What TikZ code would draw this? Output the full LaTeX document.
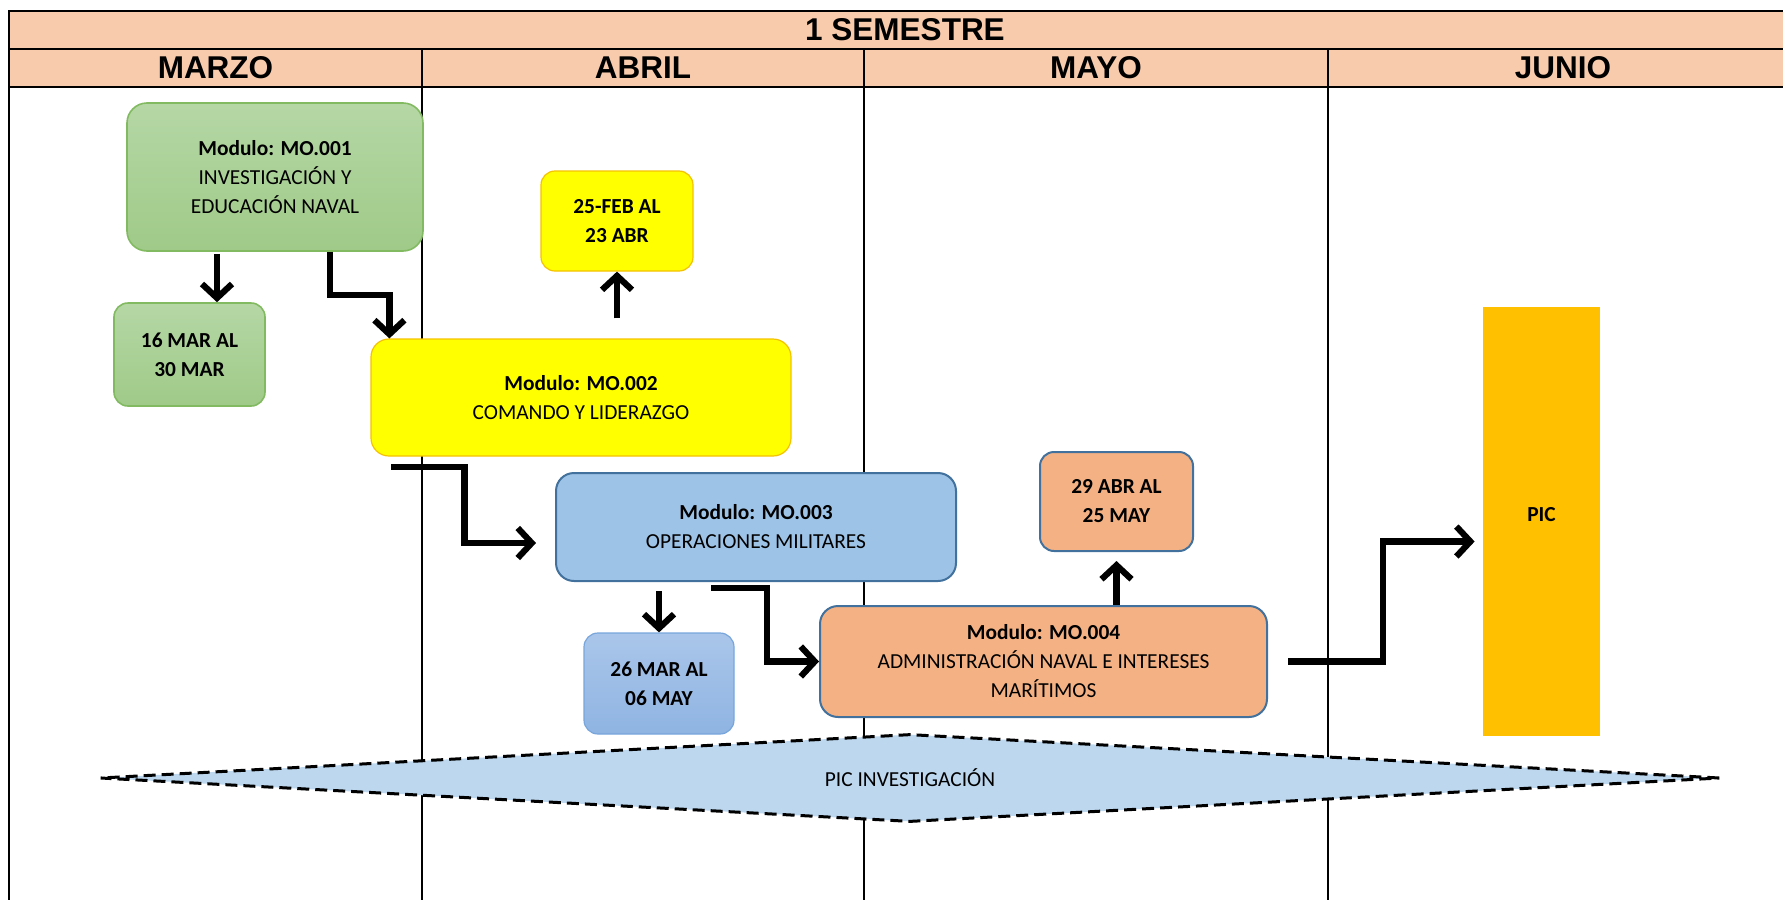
\documentclass[tikz,border=0pt]{standalone}
\usepackage{fontspec}
\setmainfont{Carlito}
\newfontfamily\hdrfont{Liberation Sans}
\usepackage{xcolor}
\usetikzlibrary{arrows.meta}
\usetikzlibrary{shapes.geometric}

\definecolor{hdrpeach}{HTML}{F8CBAD}
\definecolor{grntop}{HTML}{B5D7A5}
\definecolor{grnbot}{HTML}{9FCA88}
\definecolor{grnline}{HTML}{82BA61}
\definecolor{yelfill}{HTML}{FFFF00}
\definecolor{yelline}{HTML}{F5C200}
\definecolor{bluefill}{HTML}{9DC3E6}
\definecolor{bluetop}{HTML}{AAC6EA}
\definecolor{bluebot}{HTML}{8FB4E2}
\definecolor{blueline}{HTML}{41719C}
\definecolor{bluelite}{HTML}{78A6DC}
\definecolor{orgfill}{HTML}{F4B183}
\definecolor{picgold}{HTML}{FFC000}
\definecolor{diafill}{HTML}{BDD7EE}

\begin{document}
\begin{tikzpicture}[x=0.5pt, y=-0.5pt,
    month/.style={font=\hdrfont\fontsize{15.75}{18}\selectfont\bfseries},
    modbox/.style={rounded corners=9pt, align=center, inner sep=0pt, font=\fontsize{10.7}{14.5}\selectfont},
    datebox/.style={modbox, rounded corners=7pt, font=\fontsize{10.7}{14.5}\selectfont\bfseries},
    arr/.style={line width=3.1pt, -{Straight Barb[length=7pt,width=15pt]}}]
    \useasboundingbox (0,0) rectangle (1783,900);

        % header
        \fill[hdrpeach] (9,11) rectangle (1783,87);
        \draw[line width=1pt] (1783,11) -- (9,11) -- (9,900);
        \draw[line width=1pt] (9,49) -- (1783,49);
        \draw[line width=1pt] (9,87) -- (1783,87);
        \draw[line width=1pt] (422,49) -- (422,900);
        \draw[line width=1pt] (864,49) -- (864,900);
        \draw[line width=1pt] (1328,49) -- (1328,900);
        \node[month] (sem) at (905,30) {1 SEMESTRE};
        \node[month] (marzo) at (215.5,68) {MARZO};
        \node[month] (abril) at (643,68) {ABRIL};
        \node[month] (mayo) at (1096,68) {MAYO};
        \node[month] (junio) at (1563,68) {JUNIO};

        % modules
        \node[modbox, rounded corners=10pt, draw=grnline, line width=0.8pt, top color=grntop, bottom color=grnbot,
            minimum width=148pt, minimum height=74pt] (mo1) at (275,177)
            {\textbf{Modulo: MO.001}\\INVESTIGACIÓN Y\\EDUCACIÓN NAVAL};
        \node[modbox, draw=yelline, line width=0.6pt, fill=yelfill,
            minimum width=210pt, minimum height=58.5pt] (mo2) at (581,397.5)
            {\textbf{Modulo: MO.002}\\COMANDO Y LIDERAZGO};
        \node[modbox, draw=blueline, line width=1pt, fill=bluefill,
            minimum width=200pt, minimum height=54pt] (mo3) at (756,527)
            {\textbf{Modulo: MO.003}\\OPERACIONES MILITARES};
        \node[modbox, draw=blueline, line width=1pt, fill=orgfill,
            minimum width=223.5pt, minimum height=55.5pt] (mo4) at (1043.5,661.5)
            {\textbf{Modulo: MO.004}\\ADMINISTRACIÓN NAVAL E INTERESES\\MARÍTIMOS};
        \node[fill=picgold, minimum width=58.5pt, minimum height=214.5pt, inner sep=0pt, text depth=7pt,
            font=\fontsize{10.7}{14.5}\selectfont\bfseries] (pic) at (1541.5,521.5) {PIC};

        % dates
        \node[datebox, draw=grnline, line width=0.8pt, top color=grntop, bottom color=grnbot,
            minimum width=75.5pt, minimum height=51.5pt] (f1) at (189.5,354.5) {16 MAR AL\\30 MAR};
        \node[datebox, draw=yelline, line width=0.6pt, fill=yelfill,
            minimum width=76pt, minimum height=50pt] (f2) at (617,221) {25-FEB AL\\23 ABR};
        \node[datebox, draw=bluelite, line width=0.6pt, top color=bluetop, bottom color=bluebot,
            minimum width=75pt, minimum height=50.5pt] (f3) at (659,683.5) {26 MAR AL\\06 MAY};
        \node[datebox, draw=blueline, line width=1pt, fill=orgfill,
            minimum width=76.5pt, minimum height=49.5pt] (f4) at (1116.5,501.5) {29 ABR AL\\25 MAY};

        % research band
        \node[diamond, shape aspect=18.4, draw=black, fill=diafill, line width=1.5pt, dash pattern=on 6pt off 3pt,
            minimum width=810pt, minimum height=44pt, inner sep=0pt,
            font=\fontsize{10.7}{14.5}\selectfont] (inv) at (910,778) {PIC INVESTIGACIÓN};

        % arrows
        \draw[arr] ([xshift=-29pt, yshift=-1pt]mo1.south) -- ([xshift=-29pt]mo1.south |- f1.north);
        \draw[arr] ([xshift=27.5pt]mo1.south) -- ++(0,43) -| ([xshift=9.5pt]mo2.north west);
        \draw[arr] ([yshift=10pt]mo2.north -| f2.south) -- (f2.south);
        \draw[arr] ([xshift=10.5pt, yshift=-5pt]mo2.south west) -- ++(73,0) |- ([xshift=-9.5pt, yshift=-8pt]mo3.west);
        \draw[arr] ([yshift=-4.5pt]mo3.south -| f3.north) -- (f3.north);
        \draw[arr] ([xshift=-22.5pt, yshift=-3pt]mo3.south) -- ++(56,0) |- (mo4.west);
        \draw[arr] (mo4.north -| f4.south) -- ([yshift=-4.5pt]f4.south);
        \draw[arr] ([xshift=10pt]mo4.east) -- ++(95,0) |- ([xshift=-4pt, yshift=-10pt]pic.west);
\end{tikzpicture}
\end{document}
